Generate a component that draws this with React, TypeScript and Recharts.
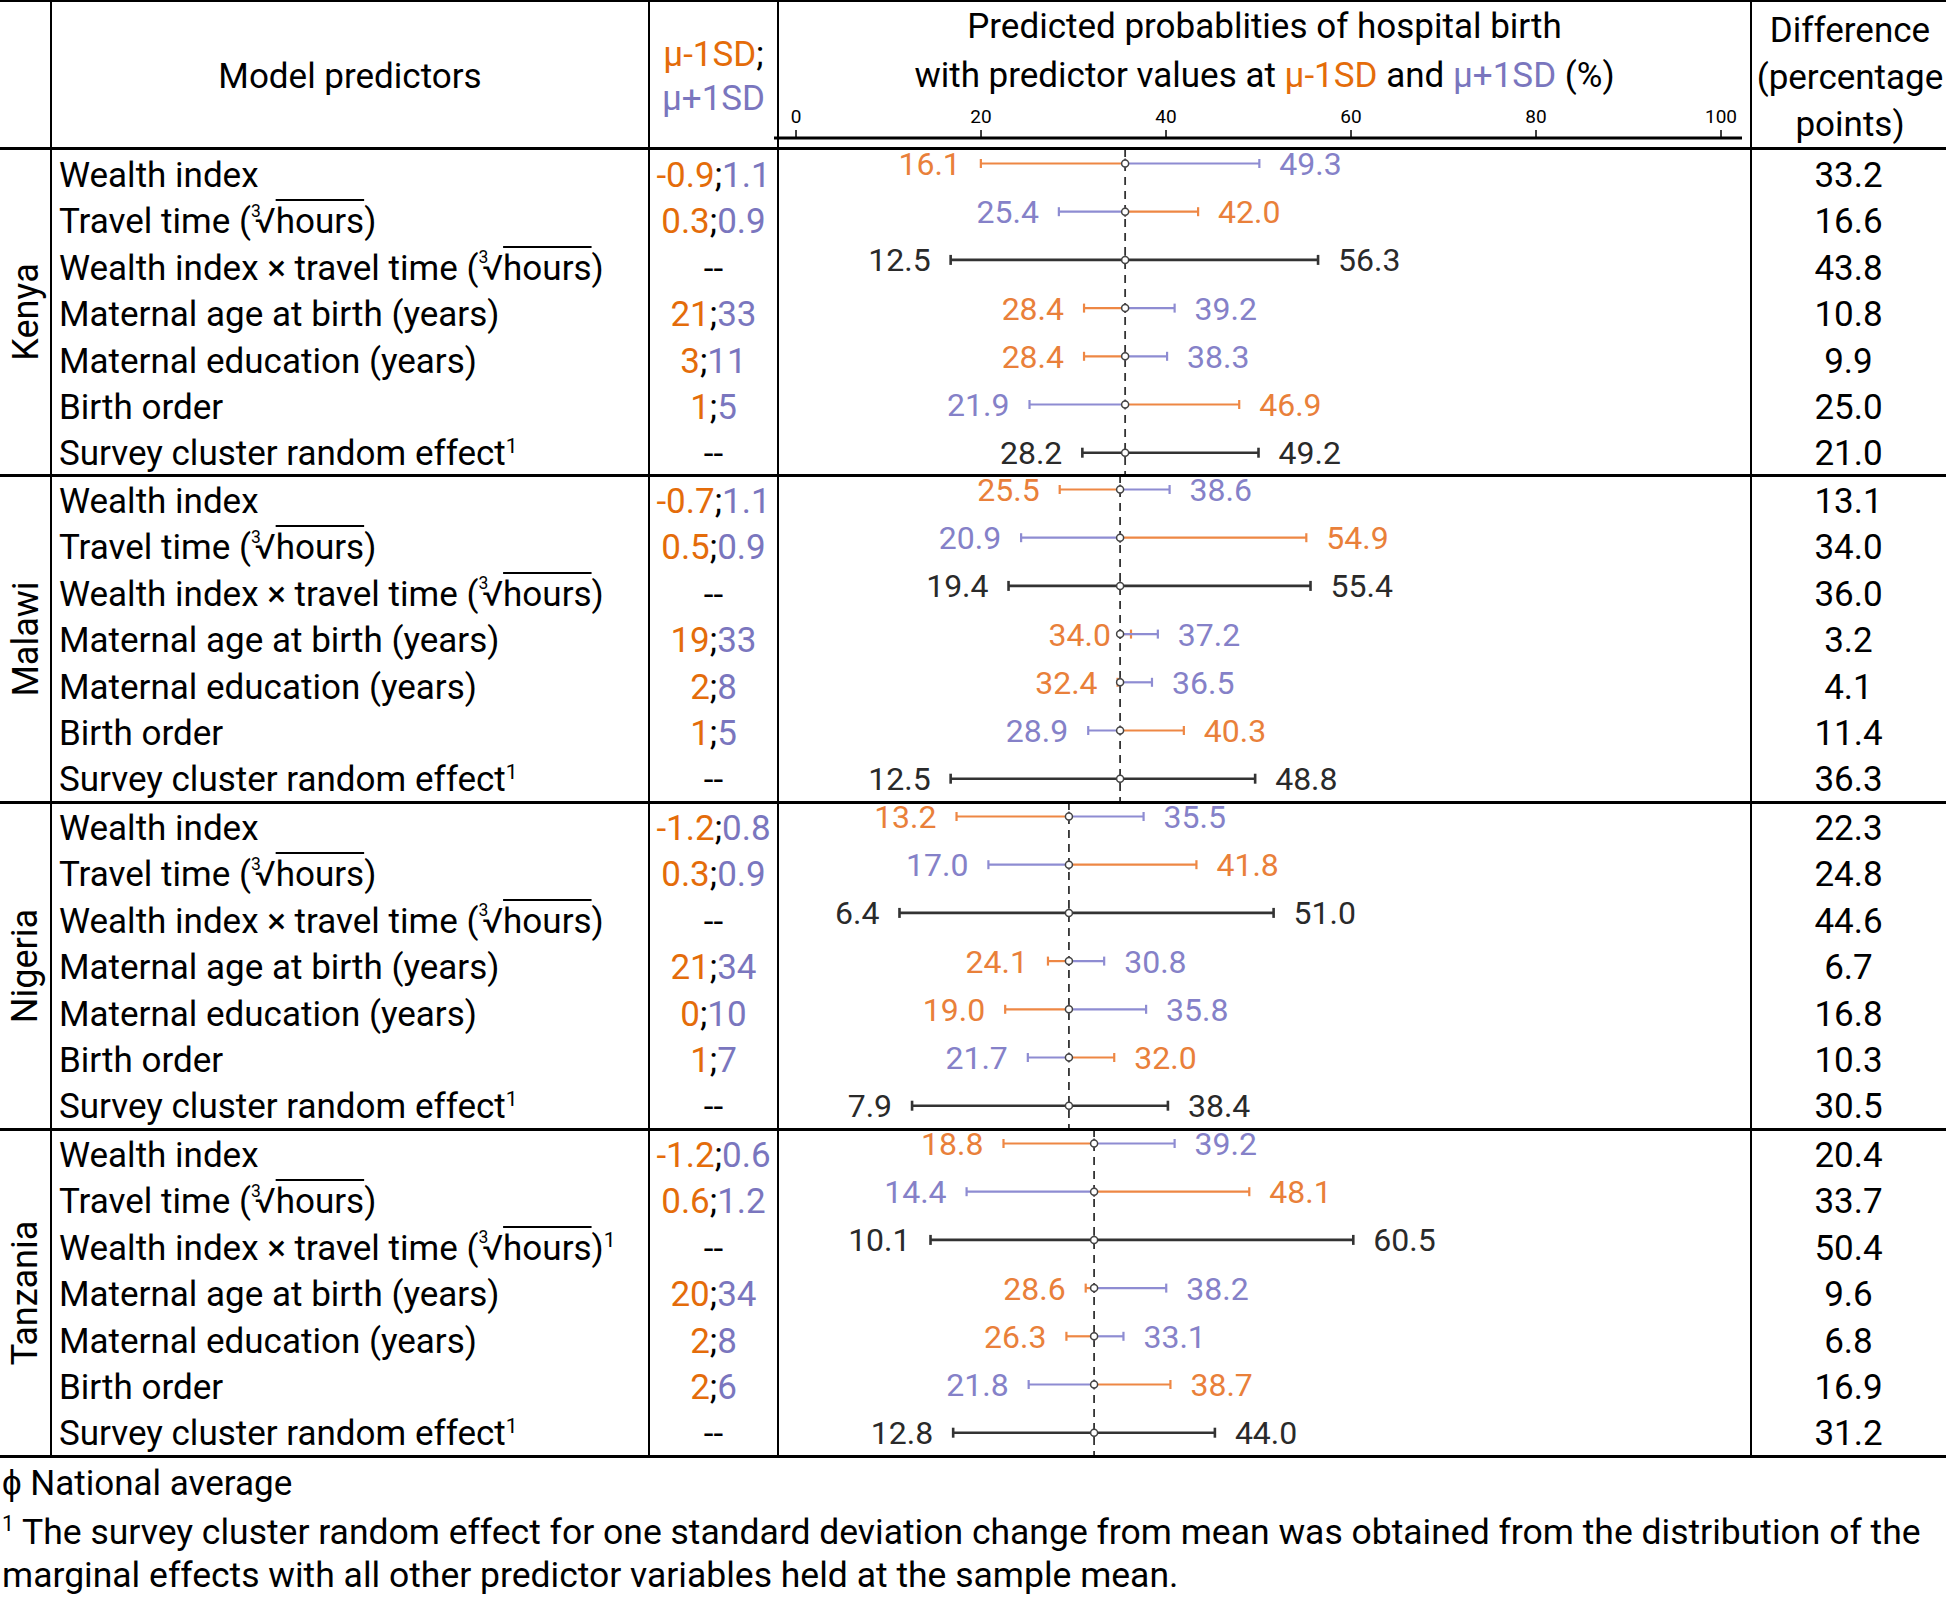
import React from 'react';
import { ComposedChart, Scatter, XAxis, YAxis, ErrorBar, ReferenceLine } from 'recharts';

const countries = ['Kenya', 'Malawi', 'Nigeria', 'Tanzania'];
const predictors = [
  'Wealth index',
  'Travel time',
  'Wealth index × travel time',
  'Maternal age at birth (years)',
  'Maternal education (years)',
  'Birth order',
  'Survey cluster random effect',
];
const cubeRootRows = [1, 2];
const footnoteRows = [[6], [6], [6], [2, 6]];
// rows without a μ±1SD pair, drawn in black
const jointRows = [2, 6];

// predictor values at μ-1SD ; μ+1SD
const kenyaSD = [['-0.9', '1.1'], ['0.3', '0.9'], null, ['21', '33'], ['3', '11'], ['1', '5'], null];
const malawiSD = [['-0.7', '1.1'], ['0.5', '0.9'], null, ['19', '33'], ['2', '8'], ['1', '5'], null];
const nigeriaSD = [['-1.2', '0.8'], ['0.3', '0.9'], null, ['21', '34'], ['0', '10'], ['1', '7'], null];
const tanzaniaSD = [['-1.2', '0.6'], ['0.6', '1.2'], null, ['20', '34'], ['2', '8'], ['2', '6'], null];

// predicted probability of hospital birth (%) at μ-1SD (black rows: lower value)
const kenyaMinus = [16.1, 42.0, 12.5, 28.4, 28.4, 46.9, 28.2];
const malawiMinus = [25.5, 54.9, 19.4, 34.0, 32.4, 40.3, 12.5];
const nigeriaMinus = [13.2, 41.8, 6.4, 24.1, 19.0, 32.0, 7.9];
const tanzaniaMinus = [18.8, 48.1, 10.1, 28.6, 26.3, 38.7, 12.8];

// predicted probability (%) at μ+1SD (black rows: upper value)
const kenyaPlus = [49.3, 25.4, 56.3, 39.2, 38.3, 21.9, 49.2];
const malawiPlus = [38.6, 20.9, 55.4, 37.2, 36.5, 28.9, 48.8];
const nigeriaPlus = [35.5, 17.0, 51.0, 30.8, 35.8, 21.7, 38.4];
const tanzaniaPlus = [39.2, 14.4, 60.5, 38.2, 33.1, 21.8, 44.0];

// difference (percentage points)
const kenyaDiff = ['33.2', '16.6', '43.8', '10.8', '9.9', '25.0', '21.0'];
const malawiDiff = ['13.1', '34.0', '36.0', '3.2', '4.1', '11.4', '36.3'];
const nigeriaDiff = ['22.3', '24.8', '44.6', '6.7', '16.8', '10.3', '30.5'];
const tanzaniaDiff = ['20.4', '33.7', '50.4', '9.6', '6.8', '16.9', '31.2'];

// national average (%)
const nationalAverage = [33.3, 32.7, 26.6, 29.6];

const axisTicks = [0, 20, 40, 60, 80, 100];

const sdValues = [kenyaSD, malawiSD, nigeriaSD, tanzaniaSD];
const probMinus = [kenyaMinus, malawiMinus, nigeriaMinus, tanzaniaMinus];
const probPlus = [kenyaPlus, malawiPlus, nigeriaPlus, tanzaniaPlus];
const differences = [kenyaDiff, malawiDiff, nigeriaDiff, tanzaniaDiff];

const FONT = 'Roboto, "Liberation Sans", sans-serif';
const ORANGE = '#E46C0A';
const PURPLE = '#7A76BE';
const LINE_ORANGE = '#EE8744';
const LINE_PURPLE = '#8E8CD2';
const LABEL_ORANGE = '#E9803A';
const LABEL_PURPLE = '#8581C8';
const INK = '#2A2A2A';

// layout
const SECTION_TOP = [149, 475, 802, 1129];
const TABLE_BOTTOM = 1456;
const TEXT_ROW = 46.4;
const MARK_ROW = 48.2;
const MARK_FIRST = 14.5;
const BLEED = 22;
const CHART_LEFT = 770;
const CHART_W = 980;
const PLOT_LEFT = 774;
const PLOT_RIGHT = 1742;
const AXIS_TOP = 90;
const AXIS_LINE = 138;

// printed axis vs. the scale the marks were actually drawn on in the source figure
const tickDomain = [-2.38, 102.27];
const valueDomain = [-8.56, 106.84];

const Txt = ({ x, cy, w, h = 46, align = 'center', size = 35, color = '#000', children }: any) => (
  <div
    style={{
      position: 'absolute', left: x, top: cy - h / 2, width: w, height: h,
      lineHeight: `${h}px`, textAlign: align, fontSize: size, color, whiteSpace: 'nowrap',
    }}
  >
    {children}
  </div>
);

const CubeRoot = () => (
  <span>
    (<span style={{ fontSize: '0.5em', position: 'relative', top: '-0.95em', marginRight: -6 }}>3</span>√
    <span style={{ textDecoration: 'overline', textDecorationThickness: 2 }}>hours</span>)
  </span>
);

const Sup = () => <span style={{ fontSize: '0.6em', position: 'relative', top: '-0.6em' }}>1</span>;

const blank = () => <g />;

const centerMark = (p: any) => (
  <g>
    <line x1={p.cx} x2={p.cx} y1={p.cy - 5} y2={p.cy + 5} stroke="#444" strokeWidth={1.5} />
    <circle cx={p.cx} cy={p.cy} r={3.5} fill="#fff" stroke="#444" strokeWidth={1.5} />
  </g>
);

const leftLabel = (p: any) => (
  <text x={p.cx - 20} y={p.cy} dy="0.36em" textAnchor="end" fontSize={32} fontFamily={FONT} fill={p.payload.color}>
    {p.payload.v.toFixed(1)}
  </text>
);

const rightLabel = (p: any) => (
  <text x={p.cx + 20} y={p.cy} dy="0.36em" textAnchor="start" fontSize={32} fontFamily={FONT} fill={p.payload.color}>
    {p.payload.v.toFixed(1)}
  </text>
);

function MarkChart({ s }: { s: number }) {
  const sTop = SECTION_TOP[s];
  const sBottom = SECTION_TOP[s + 1] ?? TABLE_BOTTOM;
  const chartTop = s === 0 ? AXIS_TOP : sTop - BLEED;
  const plotTop = s === 0 ? AXIS_LINE : sTop - BLEED;
  const plotBottom = sBottom + BLEED;
  const rowTop = sTop + MARK_FIRST;
  const toRow = (py: number) => (py - rowTop) / MARK_ROW;
  const avg = nationalAverage[s];

  const rows = probMinus[s].map((m, i) => {
    const p = probPlus[s][i];
    return { y: i, m, p, lo: Math.min(m, p), hi: Math.max(m, p), joint: jointRows.includes(i) };
  });
  const side = (v: number) => (v < avg ? [avg - v, 0] : [0, v - avg]);
  const orangeData = rows.filter((r) => !r.joint).map((r) => ({ x: avg, y: r.y, err: side(r.m) }));
  const purpleData = rows.filter((r) => !r.joint).map((r) => ({ x: avg, y: r.y, err: side(r.p) }));
  const blackData = rows.filter((r) => r.joint).map((r) => ({ x: avg, y: r.y, err: [avg - r.lo, r.hi - avg] }));
  const centerData = rows.map((r) => ({ x: avg, y: r.y }));
  const colorOf = (r: any, v: number) => (r.joint ? INK : v === r.m ? LABEL_ORANGE : LABEL_PURPLE);
  const lowData = rows.map((r) => ({ x: r.lo, y: r.y, v: r.lo, color: colorOf(r, r.lo) }));
  const highData = rows.map((r) => ({ x: r.hi, y: r.y, v: r.hi, color: colorOf(r, r.hi) }));
  const tickData = axisTicks.map((t) => ({ x: t, y: 0 }));

  return (
    <div style={{ position: 'absolute', left: CHART_LEFT, top: chartTop }}>
      <ComposedChart
        width={CHART_W}
        height={plotBottom - chartTop}
        margin={{ top: 0, right: CHART_LEFT + CHART_W - PLOT_RIGHT, bottom: 0, left: PLOT_LEFT - CHART_LEFT }}
      >
        {s === 0 && (
          <XAxis
            xAxisId="tick"
            type="number"
            dataKey="x"
            orientation="top"
            domain={tickDomain}
            allowDataOverflow
            ticks={axisTicks}
            interval={0}
            height={AXIS_LINE - AXIS_TOP}
            tickSize={8}
            tickMargin={7}
            axisLine={{ stroke: '#000', strokeWidth: 3 }}
            tickLine={{ stroke: '#000', strokeWidth: 1.5 }}
            tick={{ fontSize: 19, fill: '#000', fontFamily: FONT }}
          />
        )}
        <XAxis xAxisId="val" type="number" dataKey="x" domain={valueDomain} allowDataOverflow hide />
        <YAxis yAxisId="row" type="number" dataKey="y" domain={[toRow(plotTop), toRow(plotBottom)]} allowDataOverflow reversed hide />
        {s === 0 && (
          <Scatter xAxisId="tick" yAxisId="row" data={tickData} shape={blank} isAnimationActive={false} />
        )}
        <ReferenceLine
          xAxisId="val"
          yAxisId="row"
          segment={[{ x: avg, y: toRow(sTop) }, { x: avg, y: toRow(sBottom) }]}
          stroke="#333"
          strokeWidth={1.8}
          strokeDasharray="8 6"
        />
        <Scatter xAxisId="val" yAxisId="row" data={orangeData} shape={blank} isAnimationActive={false}>
          <ErrorBar dataKey="err" direction="x" width={4.5} stroke={LINE_ORANGE} strokeWidth={2.2} isAnimationActive={false} />
        </Scatter>
        <Scatter xAxisId="val" yAxisId="row" data={purpleData} shape={blank} isAnimationActive={false}>
          <ErrorBar dataKey="err" direction="x" width={4.5} stroke={LINE_PURPLE} strokeWidth={2.2} isAnimationActive={false} />
        </Scatter>
        <Scatter xAxisId="val" yAxisId="row" data={blackData} shape={blank} isAnimationActive={false}>
          <ErrorBar dataKey="err" direction="x" width={5} stroke="#333" strokeWidth={2.6} isAnimationActive={false} />
        </Scatter>
        <Scatter xAxisId="val" yAxisId="row" data={centerData} shape={centerMark} isAnimationActive={false} />
        <Scatter xAxisId="val" yAxisId="row" data={lowData} shape={leftLabel} isAnimationActive={false} />
        <Scatter xAxisId="val" yAxisId="row" data={highData} shape={rightLabel} isAnimationActive={false} />
      </ComposedChart>
    </div>
  );
}

function PredictorLabel({ s, i }: { s: number; i: number }) {
  return (
    <span>
      {predictors[i]}
      {cubeRootRows.includes(i) && <> <CubeRoot /></>}
      {footnoteRows[s].includes(i) && <Sup />}
    </span>
  );
}

export default function App() {
  const hLines = [
    { y: 0, h: 2 },
    { y: 147, h: 3 },
    { y: 474, h: 3 },
    { y: 801, h: 3 },
    { y: 1128, h: 3 },
    { y: 1455, h: 3 },
  ];
  const vLines = [50, 648, 777, 1750];

  return (
    <div
      style={{
        position: 'absolute', left: 0, top: 0, width: 1946, height: 1597,
        background: '#fff', overflow: 'hidden', fontFamily: FONT, color: '#000',
      }}
    >
      {countries.map((c, s) => <MarkChart key={c} s={s} />)}

      {/* header */}
      <Txt x={51} cy={77} w={598}>Model predictors</Txt>
      <Txt x={649} cy={55} w={129}><span style={{ color: ORANGE }}>μ-1SD</span>;</Txt>
      <Txt x={649} cy={99} w={129}><span style={{ color: PURPLE }}>μ+1SD</span></Txt>
      <Txt x={778} cy={27} w={973}>Predicted probablities of hospital birth</Txt>
      <Txt x={778} cy={76} w={973}>
        with predictor values at <span style={{ color: ORANGE }}>μ-1SD</span> and{' '}
        <span style={{ color: PURPLE }}>μ+1SD</span> (%)
      </Txt>
      <Txt x={1751} cy={31} w={198}>Difference</Txt>
      <Txt x={1751} cy={78} w={198}>(percentage</Txt>
      <Txt x={1751} cy={125} w={198}>points)</Txt>

      {/* body */}
      {countries.map((c, s) => {
        const top = SECTION_TOP[s];
        const bottom = SECTION_TOP[s + 1] ?? TABLE_BOTTOM;
        return (
          <React.Fragment key={c}>
            <div
              style={{
                position: 'absolute', left: 0, top, width: 51, height: bottom - top,
                display: 'flex', alignItems: 'center', justifyContent: 'center',
              }}
            >
              <span style={{ transform: 'rotate(-90deg)', fontSize: 36, whiteSpace: 'nowrap' }}>{c}</span>
            </div>
            {predictors.map((_, i) => {
              const cy = top + 27 + i * TEXT_ROW;
              const sd = sdValues[s][i];
              return (
                <React.Fragment key={i}>
                  <Txt x={59} cy={cy} w={590} align="left"><PredictorLabel s={s} i={i} /></Txt>
                  <Txt x={649} cy={cy} w={129}>
                    {sd ? (
                      <>
                        <span style={{ color: ORANGE }}>{sd[0]}</span>;<span style={{ color: PURPLE }}>{sd[1]}</span>
                      </>
                    ) : '--'}
                  </Txt>
                  <Txt x={1751} cy={cy} w={195}>{differences[s][i]}</Txt>
                </React.Fragment>
              );
            })}
          </React.Fragment>
        );
      })}

      {/* footnotes */}
      <Txt x={2} cy={1484} w={1940} align="left">ϕ National average</Txt>
      <Txt x={2} cy={1532} w={1940} align="left" size={35.5}>
        <Sup /> The survey cluster random effect for one standard deviation change from mean was obtained from the distribution of the
      </Txt>
      <Txt x={2} cy={1575} w={1940} h={40} align="left" size={35.5}>
        marginal effects with all other predictor variables held at the sample mean.
      </Txt>

      {/* table rules */}
      {hLines.map((l) => (
        <div key={l.y} style={{ position: 'absolute', left: 0, top: l.y, width: 1946, height: l.h, background: '#000' }} />
      ))}
      {vLines.map((x) => (
        <div key={x} style={{ position: 'absolute', left: x, top: 0, width: 2, height: TABLE_BOTTOM, background: '#000' }} />
      ))}
    </div>
  );
}
